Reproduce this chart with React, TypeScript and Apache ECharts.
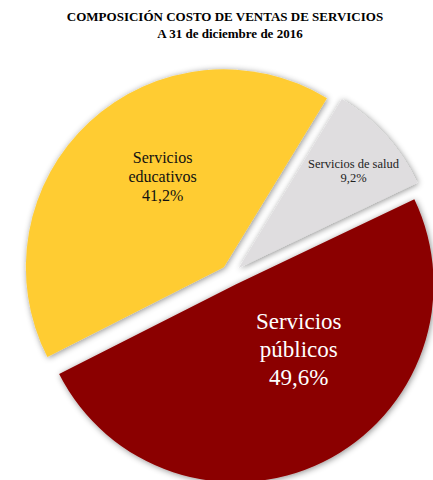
import React, { useEffect, useRef } from "react";
import * as echarts from "echarts";

const titleLines = ["COMPOSICIÓN COSTO DE VENTAS DE SERVICIOS", "A 31 de diciembre de 2016"];
const categories = ["Servicios públicos", "Servicios educativos", "Servicios de salud"];
const values = [49.6, 41.2, 9.2];
const colors = ["#8B0000", "#FFCC33", "#DFDDDF"];

const SERIF = "Liberation Serif";

export default function App() {
  const ref = useRef<HTMLDivElement>(null);
  useEffect(() => {
    document.body.style.margin = "0";
    const chart = echarts.init(ref.current!, null, { renderer: "svg" });
    const labelStyles = [
      { fontSize: 23, lineHeight: 28, color: "#ffffff", wrap: true, dx: 18, dy: -26 },
      { fontSize: 16, lineHeight: 19, color: "#111111", wrap: true, dx: 8, dy: -16 },
      { fontSize: 12.5, lineHeight: 14, color: "#222222", wrap: false, dx: 39, dy: -29 },
    ];
    chart.setOption({
      animation: false,
      textStyle: { fontFamily: SERIF },
      graphic: [
        {
          type: "text",
          x: 225,
          y: 23,
          style: {
            text: titleLines[0],
            font: "bold 13px 'Liberation Serif'",
            fill: "#000",
            textAlign: "center",
            textVerticalAlign: "bottom",
          },
        },
        {
          type: "text",
          x: 230,
          y: 40,
          style: {
            text: titleLines[1],
            font: "bold 13px 'Liberation Serif'",
            fill: "#000",
            textAlign: "center",
            textVerticalAlign: "bottom",
          },
        },
      ],
      series: [
        {
          type: "pie",
          center: [231, 275],
          radius: 198,
          startAngle: 25.5,
          clockwise: true,
          selectedMode: "multiple",
          selectedOffset: 10.5,
          avoidLabelOverlap: false,
          emphasis: { disabled: true },
          select: { itemStyle: { borderWidth: 0 } },
          itemStyle: {
            shadowBlur: 6,
            shadowColor: "rgba(0,0,0,0.45)",
            shadowOffsetX: 1,
            shadowOffsetY: 1,
          },
          label: {
            position: "inside",
            fontFamily: SERIF,
          },
          labelLine: { show: false },
          labelLayout: (params: any) => {
            const s = labelStyles[params.dataIndex];
            return { dx: s.dx, dy: s.dy };
          },
          data: categories.map((name, i) => {
            const s = labelStyles[i];
            const lines = [
              ...(s.wrap ? name.split(" ") : [name]),
              values[i].toFixed(1).replace(".", ",") + "%",
            ];
            return {
              name,
              value: values[i],
              selected: true,
              itemStyle: { color: colors[i] },
              label: {
                align: "center",
                formatter: () => lines.map((l) => "{t|" + l + "}").join("\n"),
                rich: {
                  t: {
                    fontFamily: SERIF,
                    fontSize: s.fontSize,
                    lineHeight: s.lineHeight,
                    color: s.color,
                    align: "center",
                  },
                },
              },
            };
          }),
        },
      ],
    });
    return () => chart.dispose();
  }, []);
  return (
    <div
      ref={ref}
      style={{ position: "absolute", left: 0, top: 0, width: 433, height: 480, background: "#fff" }}
    />
  );
}
